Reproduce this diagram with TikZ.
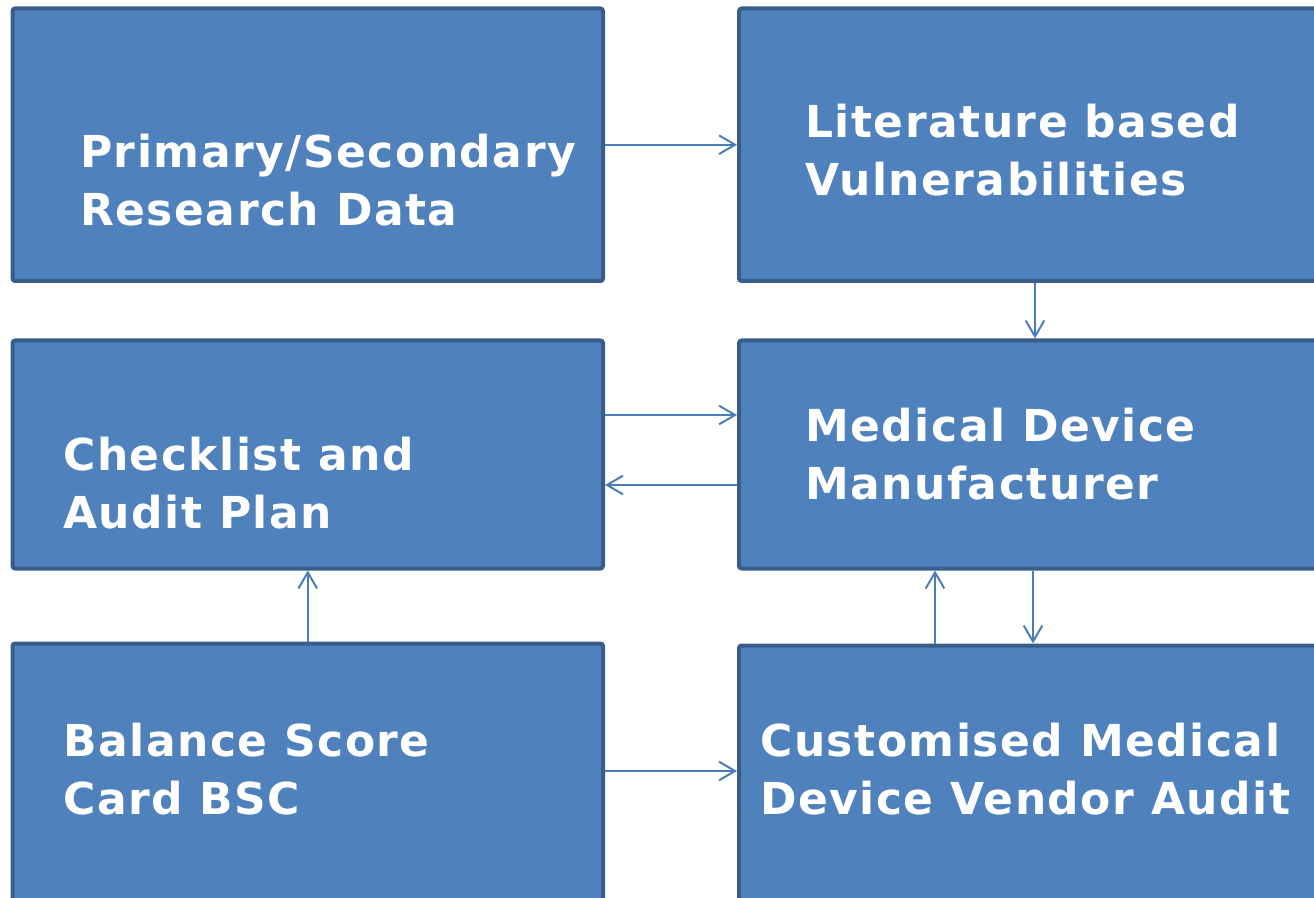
\documentclass[tikz,border=0pt]{standalone}
\usepackage{fontspec}
\setmainfont{DejaVu Sans}[LetterSpace=3.4]
\usetikzlibrary{arrows.meta,fit}

\definecolor{boxfill}{HTML}{4F81BD}
\definecolor{boxline}{HTML}{385D8A}
\definecolor{flow}{HTML}{4A7EBB}

\begin{document}
\begin{tikzpicture}[
        x=0.75pt,
        y=-0.75pt,
        box/.style={
            draw=boxline,
            fill=boxfill,
            line width=3pt,
            rounded corners=2pt,
            inner sep=0pt,
        },
        caption/.style={
            anchor=base west,
            align=left,
            inner sep=0pt,
            text=white,
            font=\bfseries\fontsize{33pt}{43.5pt}\selectfont,
        },
        link/.style={
            draw=flow,
            line width=1.5pt,
            -{Straight Barb[length=12pt,width=14pt]},
        },
    ]

    \useasboundingbox (0,0) rectangle (1314,898);

    % Boxes, the right column runs off the page.
    \node[box, fit={(12.5,8.5) (603,281)}] (prim) {};
    \node[box, fit={(739,8.5) (1345,281)}] (lit) {};
    \node[box, fit={(12.5,340.5) (603,568.5)}] (check) {};
    \node[box, fit={(739,340.5) (1345,568.5)}] (mdm) {};
    \node[box, fit={(12.5,643.5) (603,930)}] (bsc) {};
    \node[box, fit={(739,645.5) (1345,930)}] (audit) {};

    % Box texts (placed by the baseline of the last line).
    \node[caption] (tprim) at (80,226) {Primary/Secondary\\Research Data};
    \node[caption] (tlit) at (805,196) {Literature based\\Vulnerabilities};
    \node[caption] (tcheck) at (63,528) {Checklist and\\Audit Plan};
    \node[caption] (tmdm) at (805,499) {Medical Device\\Manufacturer};
    \node[caption] (tbsc) at (63,814) {Balance Score\\Card BSC};
    \node[caption] (taudit) at (760,814) {Customised Medical\\Device Vendor Audit};

    % Where the arrows run.
    \coordinate (upC) at (0,415);
    \coordinate (downC) at (0,485);
    \coordinate (bottomrow) at (0,771);
    \coordinate (litcol) at (1035,0);
    \coordinate (upcol) at (935,0);
    \coordinate (downcol) at (1033,0);

    % Arrows.
    \draw[link] (prim.east) -- (lit.west);
    \draw[link] (lit.south -| litcol) -- (mdm.north -| litcol);
    \draw[link] (check.east |- upC) -- (mdm.west |- upC);
    \draw[link] (mdm.west |- downC) -- (check.east |- downC);
    \draw[link] (bsc.north) -- (check.south);
    \draw[link] (audit.north -| upcol) -- (mdm.south -| upcol);
    \draw[link] (mdm.south -| downcol) -- (audit.north -| downcol);
    \draw[link] (bsc.east |- bottomrow) -- (audit.west |- bottomrow);
\end{tikzpicture}
\end{document}
